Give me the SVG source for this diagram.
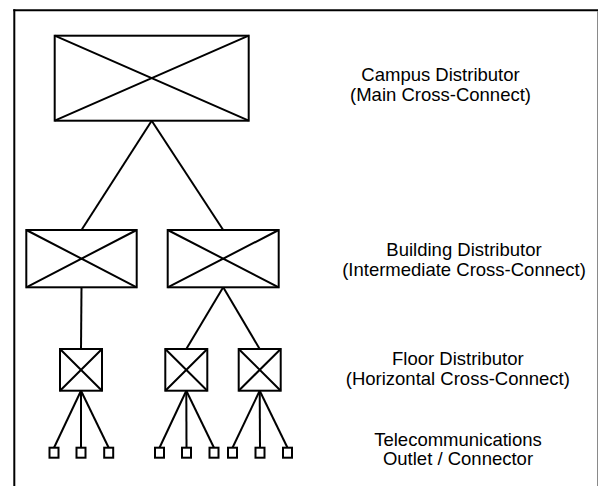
<svg xmlns="http://www.w3.org/2000/svg" width="598" height="486" viewBox="0 0 598 486">
  <style>
    .box { fill: #ffffff; stroke: #000000; stroke-width: 2; }
    .x { stroke: #000000; stroke-width: 2; fill: none; }
    .wire { stroke: #000000; stroke-width: 2; fill: none; }
    .outlet { fill: #ffffff; stroke: #000000; stroke-width: 2; }
    .lbl { font-family: "Liberation Sans", Arial, sans-serif; font-size: 18.5px; fill: #000000; text-anchor: middle; }
  </style>
  <rect width="598" height="486" fill="#ffffff"/>

  <!-- frame -->
  <g id="frame">
    <line x1="13.3" y1="10.3" x2="598" y2="10.3" stroke="#000" stroke-width="2"/>
    <line x1="14.3" y1="9.3" x2="14.3" y2="486" stroke="#000" stroke-width="2"/>
    <line x1="597.5" y1="11" x2="597.5" y2="486" stroke="#8a8a8a" stroke-width="1"/>
  </g>

  <!-- links between distributors and outlets -->
  <g id="connectors">
    <line class="wire" x1="151.7" y1="120.7" x2="81.5" y2="230"/>
    <line class="wire" x1="151.7" y1="120.7" x2="223.2" y2="230"/>
    <line class="wire" x1="81.5" y1="287.3" x2="81" y2="349"/>
    <line class="wire" x1="223.2" y1="287.3" x2="186.3" y2="349"/>
    <line class="wire" x1="223.2" y1="287.3" x2="259.7" y2="349"/>
    <line class="wire" x1="81" y1="390.7" x2="54" y2="447.7"/>
    <line class="wire" x1="81" y1="390.7" x2="81" y2="447.7"/>
    <line class="wire" x1="81" y1="390.7" x2="108.7" y2="447.7"/>
    <line class="wire" x1="186.3" y1="390.7" x2="159.5" y2="447.7"/>
    <line class="wire" x1="186.3" y1="390.7" x2="186.5" y2="447.7"/>
    <line class="wire" x1="186.3" y1="390.7" x2="214" y2="447.7"/>
    <line class="wire" x1="259.7" y1="390.7" x2="232.5" y2="447.7"/>
    <line class="wire" x1="259.7" y1="390.7" x2="260" y2="447.7"/>
    <line class="wire" x1="259.7" y1="390.7" x2="287.5" y2="447.7"/>
  </g>

  <!-- campus distributor -->
  <g id="campus-distributor">
    <rect class="box" x="54.7" y="35.7" width="194" height="85"/>
    <path class="x" d="M54.7 35.7 L248.7 120.7 M248.7 35.7 L54.7 120.7"/>
  </g>

  <!-- building distributors -->
  <g id="building-distributor-1">
    <rect class="box" x="26.3" y="230" width="110.4" height="57.3"/>
    <path class="x" d="M26.3 230 L136.7 287.3 M136.7 230 L26.3 287.3"/>
  </g>
  <g id="building-distributor-2">
    <rect class="box" x="167.7" y="230" width="111" height="57.3"/>
    <path class="x" d="M167.7 230 L278.7 287.3 M278.7 230 L167.7 287.3"/>
  </g>

  <!-- floor distributors -->
  <g id="floor-distributor-1">
    <rect class="box" x="60" y="349" width="42" height="41.7"/>
    <path class="x" d="M60 349 L102 390.7 M102 349 L60 390.7"/>
  </g>
  <g id="floor-distributor-2">
    <rect class="box" x="165.3" y="349" width="42" height="41.7"/>
    <path class="x" d="M165.3 349 L207.3 390.7 M207.3 349 L165.3 390.7"/>
  </g>
  <g id="floor-distributor-3">
    <rect class="box" x="238.7" y="349" width="42" height="41.7"/>
    <path class="x" d="M238.7 349 L280.7 390.7 M280.7 349 L238.7 390.7"/>
  </g>

  <!-- telecommunications outlets -->
  <g id="outlets-1">
    <rect class="outlet" x="49.5" y="447.7" width="9" height="10"/>
    <rect class="outlet" x="76.5" y="447.7" width="9" height="10"/>
    <rect class="outlet" x="104.2" y="447.7" width="9" height="10"/>
  </g>
  <g id="outlets-2">
    <rect class="outlet" x="155" y="447.7" width="9" height="10"/>
    <rect class="outlet" x="182" y="447.7" width="9" height="10"/>
    <rect class="outlet" x="209.5" y="447.7" width="9" height="10"/>
  </g>
  <g id="outlets-3">
    <rect class="outlet" x="228" y="447.7" width="9" height="10"/>
    <rect class="outlet" x="255.5" y="447.7" width="9" height="10"/>
    <rect class="outlet" x="283" y="447.7" width="9" height="10"/>
  </g>

  <!-- level labels -->
  <g id="labels">
    <text class="lbl" x="440.5" y="80.5">Campus Distributor</text>
    <text class="lbl" x="440.5" y="100.5">(Main Cross-Connect)</text>
    <text class="lbl" x="464" y="255.5">Building Distributor</text>
    <text class="lbl" x="464" y="275.5">(Intermediate Cross-Connect)</text>
    <text class="lbl" x="457.8" y="364.5">Floor Distributor</text>
    <text class="lbl" x="457.8" y="385">(Horizontal Cross-Connect)</text>
    <text class="lbl" x="458" y="445.5">Telecommunications</text>
    <text class="lbl" x="458" y="465">Outlet / Connector</text>
  </g>
</svg>
